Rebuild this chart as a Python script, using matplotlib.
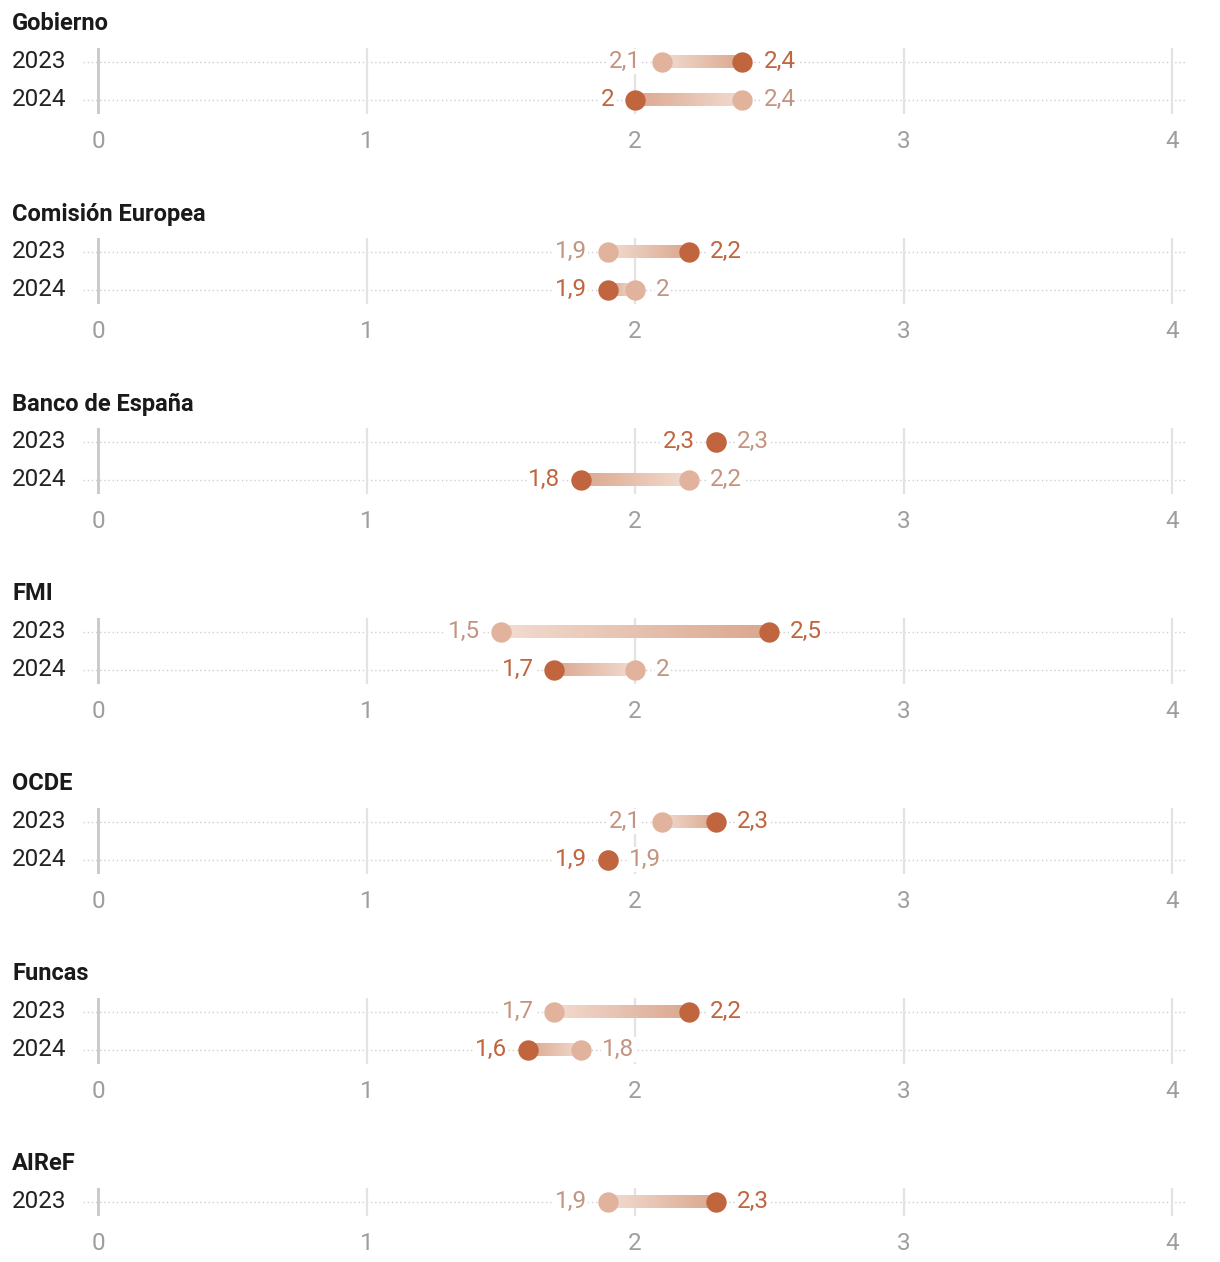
import matplotlib
matplotlib.use("Agg")
import matplotlib.pyplot as plt
import matplotlib.transforms as mtransforms
import numpy as np
from matplotlib.colors import to_rgba

plt.rcParams['font.family'] = ['Roboto', 'DejaVu Sans']

# ---------------- data ----------------
institutions = ["Gobierno", "Comisión Europea", "Banco de España", "FMI", "OCDE", "Funcas", "AIReF"]
years = [["2023", "2024"], ["2023", "2024"], ["2023", "2024"], ["2023", "2024"],
         ["2023", "2024"], ["2023", "2024"], ["2023"]]
previous = [[2.1, 2.4], [1.9, 2.0], [2.3, 2.2], [1.5, 2.0], [2.1, 1.9], [1.7, 1.8], [1.9]]
current = [[2.4, 2.0], [2.2, 1.9], [2.3, 1.8], [2.5, 1.7], [2.3, 1.9], [2.2, 1.6], [2.3]]
xticks = [0, 1, 2, 3, 4]

# ---------------- style ----------------
W, H = 1220, 1262
DARK = "#c0653e"
LIGHT = "#e1b29c"
DARK_TXT = "#c0653e"
LIGHT_TXT = "#c39580"
BAR_LIGHT = "#f2dcd1"
BAR_DARK = "#dba78e"
GRID = "#e3e3e3"
ZERO = "#c8c8c8"
TICK_TXT = "#9e9e9e"
FS = 17.5
FS_TITLE = 17

PX0, PX4 = 98, 1172
ppu = (PX4 - PX0) / 4.0
AX_L, AX_R = 83, 1187
ROW_GAP = 38
MARGIN = 14

fig = plt.figure(figsize=(W / 100, H / 100), dpi=100)


def fmt(v):
    s = f"{v:.1f}"
    if s.endswith(".0"):
        s = s[:-2]
    return s.replace(".", ",")


def gradient(c0, c1, n=256):
    a = np.array(to_rgba(c0))
    b = np.array(to_rgba(c1))
    t = np.linspace(0, 1, n)[:, None]
    return (a * (1 - t) + b * t)[None, :, :]


for i, name in enumerate(institutions):
    n = len(years[i])
    off = 190 * i
    row1 = 61.5 + off
    top = row1 - MARGIN
    bottom = row1 + ROW_GAP * (n - 1) + MARGIN
    ax = fig.add_axes([AX_L / W, 1 - bottom / H, (AX_R - AX_L) / W, (bottom - top) / H])
    xlo = -(PX0 - AX_L) / ppu
    xhi = 4 + (AX_R - PX4) / ppu
    m = MARGIN / ROW_GAP

    for sp in ax.spines.values():
        sp.set_visible(False)

    # vertical grid lines
    for t in xticks:
        ax.axvline(t, color=ZERO if t == 0 else GRID, lw=2 if t == 0 else 1.6, zorder=1)

    for r in range(n):
        ax.axhline(r, color="#cfcfcf", lw=1, ls=(0, (1, 2)), zorder=0.5)
        p, c = previous[i][r], current[i][r]
        lo, hi = min(p, c), max(p, c)
        h = 6.5 / ROW_GAP
        if p != c:
            g = gradient(BAR_LIGHT, BAR_DARK) if p < c else gradient(BAR_DARK, BAR_LIGHT)
            ax.imshow(g, extent=[lo, hi, r + h, r - h], aspect='auto',
                      interpolation='bilinear', zorder=2)
        ax.scatter([p], [r], s=215, color=LIGHT, zorder=3, linewidths=0)
        ax.scatter([c], [r], s=215, color=DARK, zorder=4, linewidths=0)
        if p < c:
            left, right = (p, LIGHT_TXT), (c, DARK_TXT)
        else:
            left, right = (c, DARK_TXT), (p, LIGHT_TXT)
        ax.annotate(fmt(left[0]), (left[0], r), xytext=(-21, 0), textcoords='offset pixels',
                    ha='right', va='center', fontsize=FS, color=left[1], zorder=5,
                    bbox=dict(boxstyle='square,pad=0.05', fc='white', ec='none'))
        ax.annotate(fmt(right[0]), (right[0], r), xytext=(21, 0), textcoords='offset pixels',
                    ha='left', va='center', fontsize=FS, color=right[1], zorder=5,
                    bbox=dict(boxstyle='square,pad=0.05', fc='white', ec='none'))
        # year label
        tr = mtransforms.blended_transform_factory(fig.transFigure, ax.transData)
        ax.text(12 / W, r, years[i][r], transform=tr, ha='left', va='center',
                fontsize=FS, color="#222222")

    ax.set_xlim(xlo, xhi)
    ax.set_ylim(n - 1 + m, -m)
    ax.set_yticks([])
    ax.set_xticks(xticks)
    ax.set_xticklabels([str(t) for t in xticks])
    ax.tick_params(axis='x', length=0, pad=12, labelsize=FS, labelcolor=TICK_TXT)

    fig.text(12 / W, 1 - (24 + off) / H, name, ha='left', va='center',
             fontsize=FS_TITLE, fontweight='bold', color="#1a1a1a")

fig.savefig("out.png", dpi=100)
